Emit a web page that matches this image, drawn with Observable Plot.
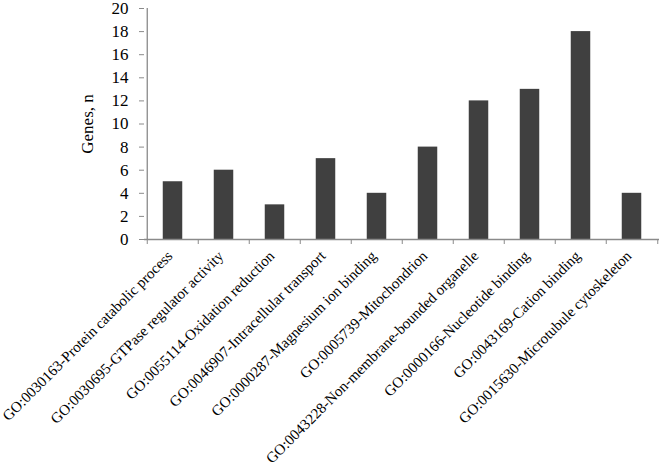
<!DOCTYPE html>
<html>
<head>
<meta charset="utf-8">
<script src="https://cdn.jsdelivr.net/npm/d3@7"></script>
<script src="https://cdn.jsdelivr.net/npm/@observablehq/plot@0.6"></script>
<style>
  html, body { margin: 0; padding: 0; background: #fff; }
</style>
</head>
<body>
<div id="chart"></div>
<script>
const categories = [
  "GO:0030163-Protein catabolic process",
  "GO:0030695-GTPase regulator activity",
  "GO:0055114-Oxidation reduction",
  "GO:0046907-Intracellular transport",
  "GO:0000287-Magnesium ion binding",
  "GO:0005739-Mitochondrion",
  "GO:0043228-Non-membrane-bounded organelle",
  "GO:0000166-Nucleotide binding",
  "GO:0043169-Cation binding",
  "GO:0015630-Microtubule cytoskeleton"
];
const genes = [5, 6, 3, 7, 4, 8, 12, 13, 18, 4];
const yTicks = [0, 2, 4, 6, 8, 10, 12, 14, 16, 18, 20];
const yLabel = "Genes, n";

const data = categories.map((c, i) => ({cat: c, n: genes[i]}));

const W = 660, H = 468;
const mL = 144, mR = 1, mT = 8, mB = 229;
const step = (W - mL - mR) / categories.length;
const barW = 20;
const inset = (step - barW) / 2;
const font = "Liberation Serif";
const axisGray = "#8a8a8a";

const plot = Plot.plot({
  width: W,
  height: H,
  marginLeft: mL,
  marginRight: mR,
  marginTop: mT,
  marginBottom: mB,
  style: {fontFamily: font, background: "#fff", color: "#000"},
  x: {domain: categories, padding: 0, axis: null, label: null},
  y: {domain: [0, 20], axis: null, label: null},
  marks: [
    Plot.barY(data, {x: "cat", y: "n", fill: "#404040", insetLeft: inset, insetRight: inset}),
    Plot.ruleX([categories[0]], {dx: -step / 2, stroke: axisGray, strokeWidth: 1.3}),
    Plot.ruleY([0], {stroke: axisGray, strokeWidth: 1.3}),
    Plot.axisY({ticks: yTicks, tickSize: 5, tickPadding: 11, fontSize: 17, fontFamily: font, stroke: axisGray, label: null, tickFormat: d => String(d)}),
    Plot.axisX({ticks: categories, tickSize: 5, dx: -step / 2, text: null, stroke: axisGray, label: null}),
    Plot.axisX({ticks: [categories[categories.length - 1]], tickSize: 5, dx: step / 2, text: null, stroke: axisGray, label: null}),
    Plot.axisX({ticks: categories, tickSize: 0, tickPadding: 11, tickRotate: -45, fontSize: 15, fontFamily: font, label: null, dx: -3, dy: 3}),
    Plot.text([yLabel], {frameAnchor: "left", rotate: -90, dx: -57, fontSize: 17, fontFamily: font, textAnchor: "middle"})
  ]
});
document.getElementById("chart").appendChild(plot);
</script>
</body>
</html>
